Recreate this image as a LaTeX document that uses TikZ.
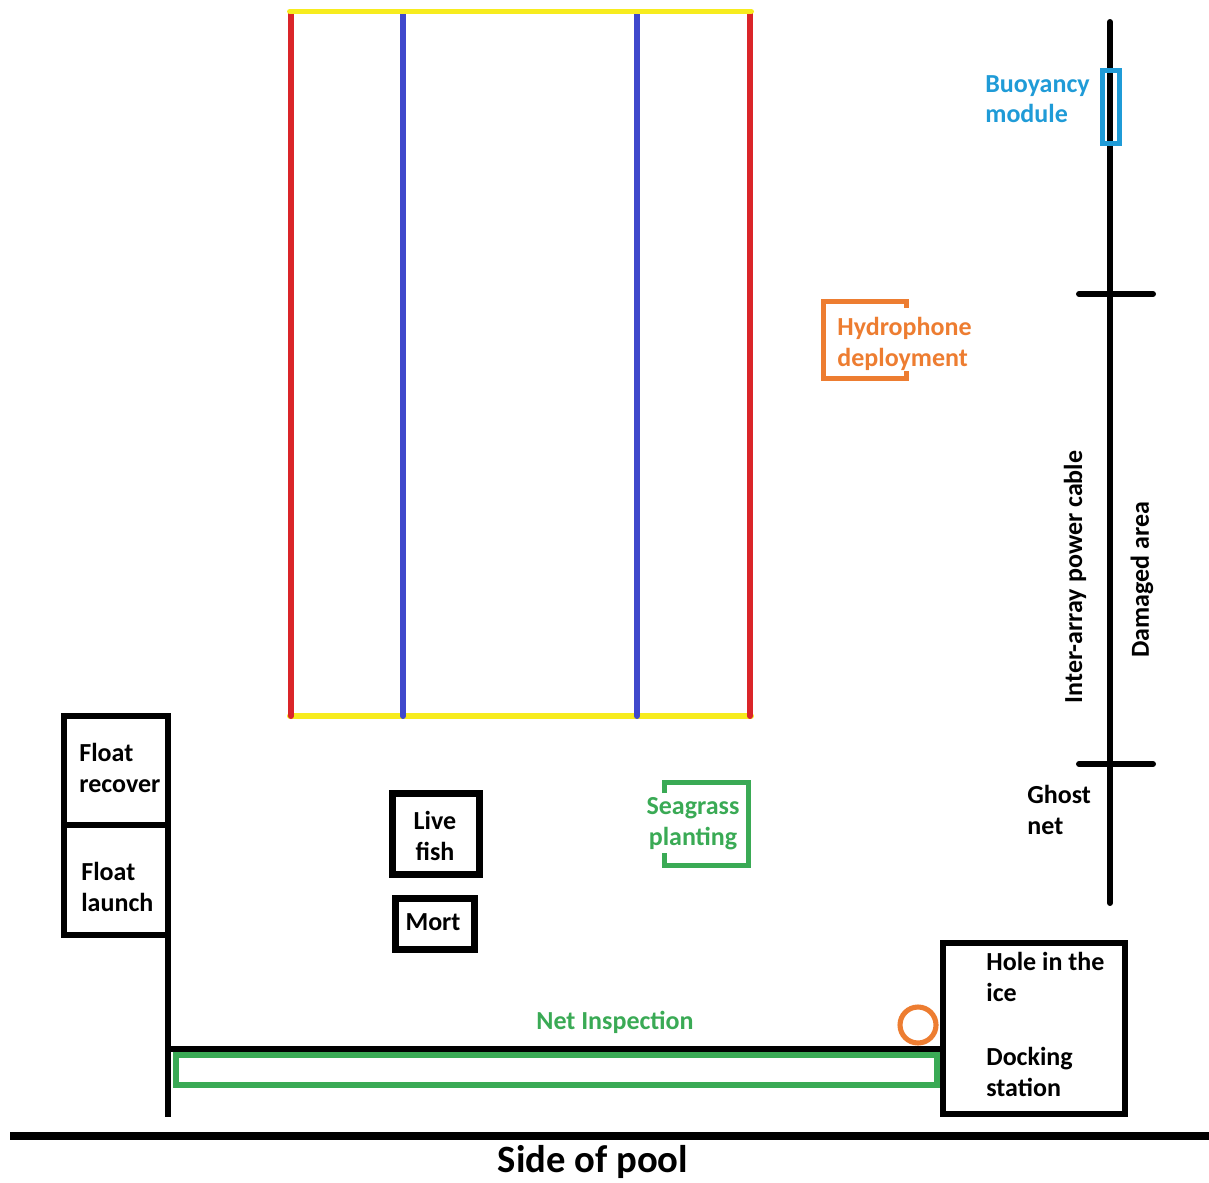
\documentclass[tikz,border=0pt]{standalone}
\usepackage{fontspec}
\setmainfont{Carlito}
\definecolor{framered}{RGB}{218,37,41}
\definecolor{frameblue}{RGB}{63,72,204}
\definecolor{frameyellow}{RGB}{247,236,30}
\definecolor{hydroorange}{RGB}{237,125,49}
\definecolor{buoyblue}{RGB}{31,155,215}
\definecolor{netgreen}{RGB}{58,170,85}
\tikzset{
  txt/.style={inner sep=0pt,align=left,font=\fontsize{14.8}{17.5}\selectfont\bfseries},
  wall/.style={line width=3.4pt},
  boxline/.style={line width=3.8pt},
  rail/.style={line width=3.4pt,line cap=round},
  cable/.style={line width=3.4pt,line cap=round},
  bracket/.style={line width=2.9pt}
}

\begin{document}
\begin{tikzpicture}[x=0.02cm,y=-0.02cm]
\useasboundingbox (0,0) rectangle (1209,1182);

% fish pen frame
\draw[rail,frameyellow] (290,716) -- (751,716);
\foreach \xx/\cc in {291/framered,403/frameblue,637/frameblue,750/framered}
  \draw[rail,\cc] (\xx,14) -- (\xx,716);
\draw[rail,frameyellow] (290,11.5) -- (751,11.5);

% power cable
\draw[cable] (1110,22) -- (1110,903);
\draw[cable] (1079,294) -- (1153,294);
\draw[cable] (1079,764) -- (1153,764);
\draw[line width=2.8pt,buoyblue] (1102.5,70.5) rectangle (1119.5,143.5);

\node[txt,anchor=north west,text=buoyblue] (buoy) at (985,75) {Buoyancy\\module};
\node[txt,rotate=90] (cablelbl) at (1075,577) {Inter-array power cable};
\node[txt,rotate=90] (damaged) at (1142,580) {Damaged area};
\node[txt,anchor=north west] (ghost) at (1027,785) {Ghost\\net};

% hydrophone
\draw[bracket,hydroorange] (906.5,308) -- (906.5,301.5) -- (823.5,301.5)
  -- (823.5,378.5) -- (906.5,378.5) -- (906.5,371);
\node[txt,anchor=north west,text=hydroorange] (hydro) at (837,317) {Hydrophone\\deployment};

% seagrass
\draw[bracket,netgreen] (664.5,793) -- (664.5,782.5) -- (748.5,782.5)
  -- (748.5,865.5) -- (664.5,865.5) -- (664.5,853);
\node[txt,anchor=north,align=center,text=netgreen] (seagrass) at (693,797) {Seagrass\\planting};

% floats
\draw[wall] (64,716) rectangle (168,935);
\draw[wall] (64,825) -- (168,825);
\node[txt,anchor=north west] (recover) at (79,743) {Float\\recover};
\node[txt,anchor=north west] (launch) at (81,862) {Float\\launch};

% fish boxes
\draw[boxline] (392.5,793.5) rectangle (479.5,874.5);
\node[txt,anchor=north,align=center] (live) at (435,811) {Live\\fish};
\draw[boxline] (395.5,898.5) rectangle (474.5,949.5);
\node[txt,anchor=north] (mort) at (433,913) {Mort};

% net and docking
\draw[wall] (168,935) -- (168,1117);
\draw[wall] (168,1049) -- (941,1049);
\draw[line width=2.9pt,netgreen] (176,1055) rectangle (937,1085);
\node[txt,anchor=north,text=netgreen] (net) at (615,1011) {Net Inspection};
\draw[line width=2.9pt,hydroorange] (918,1025) circle (18);
\draw[wall] (943,943) rectangle (1125,1114);
\node[txt,anchor=north west] (hole) at (986,952) {Hole in the\\ice};
\node[txt,anchor=north west] (dock) at (986,1047) {Docking\\station};

% pool side
\draw[line width=5.1pt] (10,1136) -- (1209,1136);
\node[inner sep=0pt,anchor=north,font=\fontsize{22}{26}\selectfont\bfseries] (pool) at (593,1145) {Side of pool};
\end{tikzpicture}
\end{document}
